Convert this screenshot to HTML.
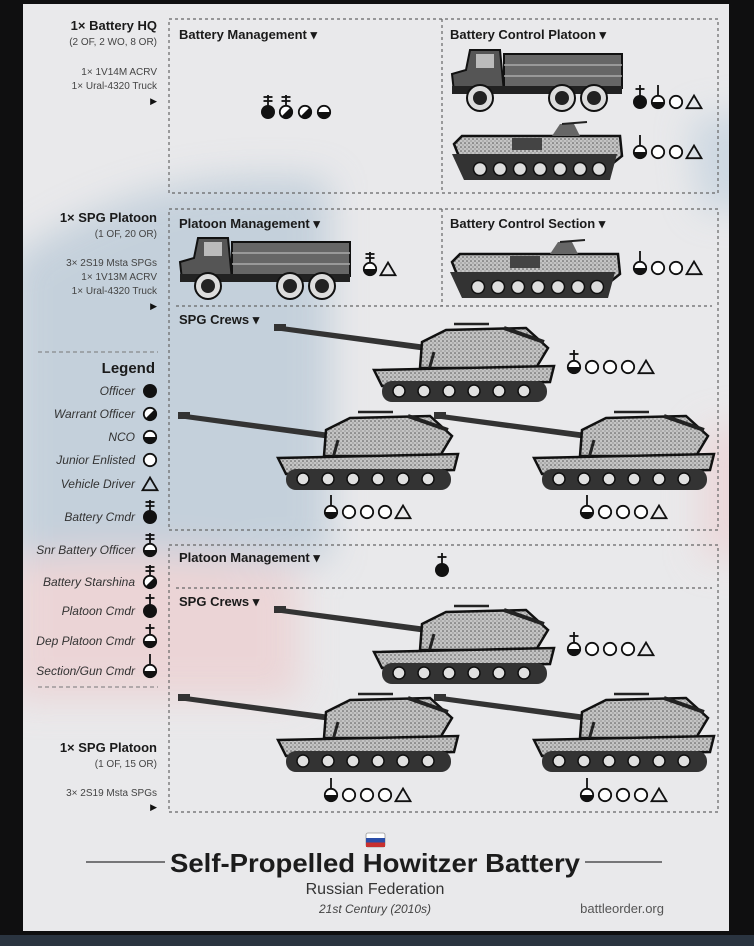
<!DOCTYPE html>
<html><head><meta charset="utf-8"><style>
html,body{margin:0;padding:0;background:#111;}
svg{display:block}
text{font-family:"Liberation Sans Narrow","Liberation Sans",sans-serif;fill:#1a1a1a}
.h{font-weight:bold;font-size:13px}
.s{font-size:10px;fill:#444}
.lg{font-style:italic;font-size:12px;fill:#333}
</style></head><body>
<svg width="754" height="946" viewBox="0 0 754 946" xmlns="http://www.w3.org/2000/svg">
<defs>
<filter id="bl" x="-50%" y="-50%" width="200%" height="200%"><feGaussianBlur stdDeviation="18"/></filter>
<pattern id="dots" width="4" height="4" patternUnits="userSpaceOnUse"><rect width="4" height="4" fill="#c4c4c4"/><circle cx="1" cy="1" r="0.8" fill="#555"/><circle cx="3" cy="3" r="0.6" fill="#777"/></pattern>
<g id="off"><circle r="7" fill="#111"/></g>
<g id="wo"><circle r="6.2" fill="#fff" stroke="#111" stroke-width="1.8"/><path d="M4.9,-4.9 A7,7 0 0 1 -4.9,4.9 Z" fill="#111"/></g>
<g id="nco"><circle r="6.2" fill="#fff" stroke="#111" stroke-width="1.8"/><path d="M-7,0 A7,7 0 0 0 7,0 Z" fill="#111"/></g>
<g id="je"><circle r="6.2" fill="#fff" stroke="#111" stroke-width="1.8"/></g>
<g id="drv"><polygon points="0,-6.5 7.5,6.2 -7.5,6.2" fill="none" stroke="#111" stroke-width="1.8"/></g>
<g id="l0"><line x1="0" y1="-6" x2="0" y2="-17" stroke="#111" stroke-width="1.8"/></g>
<g id="l1"><use href="#l0"/><line x1="-4.5" y1="-13" x2="4.5" y2="-13" stroke="#111" stroke-width="1.8"/></g>
<g id="l2"><use href="#l0"/><line x1="-4.5" y1="-15" x2="4.5" y2="-15" stroke="#111" stroke-width="1.8"/><line x1="-4.5" y1="-11" x2="4.5" y2="-11" stroke="#111" stroke-width="1.8"/></g>

<g id="spg">
 <polygon points="0,1 0,6 160,28 160,22" fill="#333"/>
 <rect x="0" y="0" width="12" height="7" fill="#333"/>
 <path d="M148,18 L172,6 L252,4 L274,24 L262,44 L146,44 Z" fill="url(#dots)" stroke="#111" stroke-width="2.5"/>
 <path d="M230,4 L270,18" stroke="#222" stroke-width="4"/>
 <line x1="180" y1="0" x2="215" y2="0" stroke="#222" stroke-width="2.5"/>
 <line x1="160" y1="28" x2="155" y2="46" stroke="#222" stroke-width="3"/>
 <path d="M100,46 L280,42 L276,58 L108,62 Z" fill="url(#dots)" stroke="#111" stroke-width="2.5"/>
 <rect x="108" y="57" width="165" height="21" rx="10" fill="#333"/>
 <g fill="#e0e0e0" stroke="#111" stroke-width="1.5">
  <circle cx="125" cy="67" r="6"/><circle cx="150" cy="67" r="6"/><circle cx="175" cy="67" r="6"/><circle cx="200" cy="67" r="6"/><circle cx="225" cy="67" r="6"/><circle cx="250" cy="67" r="6"/>
 </g>
</g>
<g id="truck">
 <rect x="52" y="6" width="118" height="34" fill="#666" stroke="#111" stroke-width="2"/>
 <line x1="52" y1="17" x2="170" y2="17" stroke="#aaa" stroke-width="1.5"/>
 <line x1="52" y1="28" x2="170" y2="28" stroke="#aaa" stroke-width="1.5"/>
 <path d="M18,2 L48,2 L52,44 L2,44 L0,26 L14,22 Z" fill="#555" stroke="#111" stroke-width="2"/>
 <rect x="24" y="6" width="18" height="14" fill="#bbb"/>
 <rect x="0" y="38" width="170" height="8" fill="#222"/>
 <g fill="#ddd" stroke="#111" stroke-width="2"><circle cx="28" cy="50" r="13"/><circle cx="110" cy="50" r="13"/><circle cx="142" cy="50" r="13"/></g>
 <g fill="#222"><circle cx="28" cy="50" r="7"/><circle cx="110" cy="50" r="7"/><circle cx="142" cy="50" r="7"/></g>
</g>
<g id="mtlb">
 <path d="M2,22 L10,14 L168,14 L170,34 L160,42 L10,42 Z" fill="url(#dots)" stroke="#111" stroke-width="2.5"/>
 <rect x="60" y="16" width="30" height="12" fill="#444"/>
 <path d="M100,14 L108,2 L122,2 L128,14 Z" fill="#666"/>
 <line x1="110" y1="2" x2="135" y2="0" stroke="#222" stroke-width="2"/>
 <path d="M0,32 L165,32 L158,58 L12,58 Z" fill="#333"/>
 <g fill="#ddd" stroke="#111" stroke-width="1.5"><circle cx="28" cy="47" r="6.5"/><circle cx="48" cy="47" r="6.5"/><circle cx="68" cy="47" r="6.5"/><circle cx="88" cy="47" r="6.5"/><circle cx="108" cy="47" r="6.5"/><circle cx="128" cy="47" r="6.5"/><circle cx="147" cy="47" r="6.5"/></g>
</g>
</defs>

<rect width="754" height="946" fill="#0f0f10"/>
<rect x="0" y="935" width="754" height="11" fill="#2a3440"/>
<rect x="23" y="4" width="706" height="927" fill="#e9e9eb"/>
<clipPath id="cp"><rect x="23" y="4" width="706" height="927"/></clipPath>
<g clip-path="url(#cp)" filter="url(#bl)" opacity="0.8">
 <path d="M10,260 Q150,160 330,180 L330,560 L10,560 Z" fill="#bccbd8"/>
 <path d="M10,560 Q140,540 300,570 L300,700 L10,700 Z" fill="#ecd0d2"/>
 <path d="M690,120 L760,110 L760,210 L700,210 Z" fill="#c5d3df"/>
 <path d="M700,430 L760,420 L760,560 L700,560 Z" fill="#ecd3d5"/>
</g>

<g text-anchor="end">
 <text x="157" y="30" class="h">1× Battery HQ</text>
 <text x="157" y="45" class="s">(2 OF, 2 WO, 8 OR)</text>
 <text x="157" y="75" class="s">1× 1V14M ACRV</text>
 <text x="157" y="89" class="s">1× Ural-4320 Truck</text>
 <text x="157" y="104" class="s" style="font-size:9px;fill:#111">▶</text>
 <text x="157" y="222" class="h">1× SPG Platoon</text>
 <text x="157" y="237" class="s">(1 OF, 20 OR)</text>
 <text x="157" y="266" class="s">3× 2S19 Msta SPGs</text>
 <text x="157" y="280" class="s">1× 1V13M ACRV</text>
 <text x="157" y="294" class="s">1× Ural-4320 Truck</text>
 <text x="157" y="309" class="s" style="font-size:9px;fill:#111">▶</text>
 <text x="155" y="373" style="font-weight:bold;font-size:15px">Legend</text>
 <text x="135" y="395" class="lg">Officer</text>
 <text x="135" y="418" class="lg">Warrant Officer</text>
 <text x="135" y="441" class="lg">NCO</text>
 <text x="135" y="464" class="lg">Junior Enlisted</text>
 <text x="135" y="488" class="lg">Vehicle Driver</text>
 <text x="135" y="521" class="lg">Battery Cmdr</text>
 <text x="135" y="554" class="lg">Snr Battery Officer</text>
 <text x="135" y="586" class="lg">Battery Starshina</text>
 <text x="135" y="615" class="lg">Platoon Cmdr</text>
 <text x="135" y="645" class="lg">Dep Platoon Cmdr</text>
 <text x="135" y="675" class="lg">Section/Gun Cmdr</text>
 <text x="157" y="752" class="h">1× SPG Platoon</text>
 <text x="157" y="767" class="s">(1 OF, 15 OR)</text>
 <text x="157" y="796" class="s">3× 2S19 Msta SPGs</text>
 <text x="157" y="810" class="s" style="font-size:9px;fill:#111">▶</text>
</g>
<line x1="38" y1="352" x2="158" y2="352" stroke="#777" stroke-dasharray="4,3"/>
<line x1="38" y1="687" x2="158" y2="687" stroke="#777" stroke-dasharray="4,3"/>
<use href="#off" x="150" y="391"/>
<use href="#wo" x="150" y="414"/>
<use href="#nco" x="150" y="437"/>
<use href="#je" x="150" y="460"/>
<use href="#drv" x="150" y="484"/>
<use href="#off" x="150" y="517"/><use href="#l2" x="150" y="517"/>
<use href="#nco" x="150" y="550"/><use href="#l2" x="150" y="550"/>
<use href="#wo" x="150" y="582"/><use href="#l2" x="150" y="582"/>
<use href="#off" x="150" y="611"/><use href="#l1" x="150" y="611"/>
<use href="#nco" x="150" y="641"/><use href="#l1" x="150" y="641"/>
<use href="#nco" x="150" y="671"/><use href="#l0" x="150" y="671"/>

<g fill="none" stroke="#666" stroke-width="1.2" stroke-dasharray="3,3">
 <rect x="169" y="19" width="549" height="174"/>
 <line x1="442" y1="19" x2="442" y2="193"/>
 <rect x="169" y="209" width="549" height="321"/>
 <line x1="442" y1="209" x2="442" y2="306"/>
 <line x1="176" y1="306" x2="712" y2="306"/>
 <rect x="169" y="545" width="549" height="267"/>
 <line x1="176" y1="588" x2="712" y2="588"/>
</g>
<text x="179" y="39" class="h">Battery Management ▾</text>
<text x="450" y="39" class="h">Battery Control Platoon ▾</text>
<text x="179" y="228" class="h">Platoon Management ▾</text>
<text x="450" y="228" class="h">Battery Control Section ▾</text>
<text x="179" y="324" class="h">SPG Crews ▾</text>
<text x="179" y="562" class="h">Platoon Management ▾</text>
<text x="179" y="606" class="h">SPG Crews ▾</text>

<use href="#off" x="268" y="112"/><use href="#l2" x="268" y="112"/>
<use href="#wo" x="286" y="112"/><use href="#l2" x="286" y="112"/>
<use href="#wo" x="305" y="112"/>
<use href="#nco" x="324" y="112"/>
<use href="#truck" x="452" y="48"/>
<use href="#off" x="640" y="102"/><use href="#l1" x="640" y="102"/>
<use href="#nco" x="658" y="102"/><use href="#l0" x="658" y="102"/>
<use href="#je" x="676" y="102"/><use href="#drv" x="694" y="102"/>
<use href="#mtlb" x="452" y="122"/>
<use href="#nco" x="640" y="152"/><use href="#l0" x="640" y="152"/>
<use href="#je" x="658" y="152"/><use href="#je" x="676" y="152"/><use href="#drv" x="694" y="152"/>

<use href="#truck" x="180" y="236"/>
<use href="#nco" x="370" y="269"/><use href="#l2" x="370" y="269"/>
<use href="#drv" x="388" y="269"/>
<use href="#mtlb" x="450" y="240"/>
<use href="#nco" x="640" y="268"/><use href="#l0" x="640" y="268"/>
<use href="#je" x="658" y="268"/><use href="#je" x="676" y="268"/><use href="#drv" x="694" y="268"/>

<use href="#spg" x="274" y="324"/>
<use href="#nco" x="574" y="367"/><use href="#l1" x="574" y="367"/>
<use href="#je" x="592" y="367"/><use href="#je" x="610" y="367"/><use href="#je" x="628" y="367"/><use href="#drv" x="646" y="367"/>
<use href="#spg" x="178" y="412"/>
<use href="#nco" x="331" y="512"/><use href="#l0" x="331" y="512"/>
<use href="#je" x="349" y="512"/><use href="#je" x="367" y="512"/><use href="#je" x="385" y="512"/><use href="#drv" x="403" y="512"/>
<use href="#spg" x="434" y="412"/>
<use href="#nco" x="587" y="512"/><use href="#l0" x="587" y="512"/>
<use href="#je" x="605" y="512"/><use href="#je" x="623" y="512"/><use href="#je" x="641" y="512"/><use href="#drv" x="659" y="512"/>

<use href="#off" x="442" y="570"/><use href="#l1" x="442" y="570"/>
<use href="#spg" x="274" y="606"/>
<use href="#nco" x="574" y="649"/><use href="#l1" x="574" y="649"/>
<use href="#je" x="592" y="649"/><use href="#je" x="610" y="649"/><use href="#je" x="628" y="649"/><use href="#drv" x="646" y="649"/>
<use href="#spg" x="178" y="694"/>
<use href="#nco" x="331" y="795"/><use href="#l0" x="331" y="795"/>
<use href="#je" x="349" y="795"/><use href="#je" x="367" y="795"/><use href="#je" x="385" y="795"/><use href="#drv" x="403" y="795"/>
<use href="#spg" x="434" y="694"/>
<use href="#nco" x="587" y="795"/><use href="#l0" x="587" y="795"/>
<use href="#je" x="605" y="795"/><use href="#je" x="623" y="795"/><use href="#je" x="641" y="795"/><use href="#drv" x="659" y="795"/>

<rect x="366" y="833" width="19" height="14" fill="#fff" stroke="#999" stroke-width="0.8" rx="2"/>
<rect x="366" y="838" width="19" height="4.5" fill="#2b4ea8"/>
<rect x="366" y="842.5" width="19" height="4.5" fill="#c8302f"/>
<line x1="86" y1="862" x2="165" y2="862" stroke="#333" stroke-width="1.2"/>
<line x1="585" y1="862" x2="662" y2="862" stroke="#333" stroke-width="1.2"/>
<text x="170" y="872" textLength="410" lengthAdjust="spacingAndGlyphs" style="font-weight:bold;font-size:26px;fill:#1c1c1c">Self-Propelled Howitzer Battery</text>
<text x="375" y="894" text-anchor="middle" style="font-size:16px;fill:#333">Russian Federation</text>
<text x="375" y="913" text-anchor="middle" style="font-size:12px;font-style:italic;fill:#444">21st Century (2010s)</text>
<text x="664" y="913" text-anchor="end" style="font-size:13px;fill:#555">battleorder.org</text>
</svg>
</body></html>
